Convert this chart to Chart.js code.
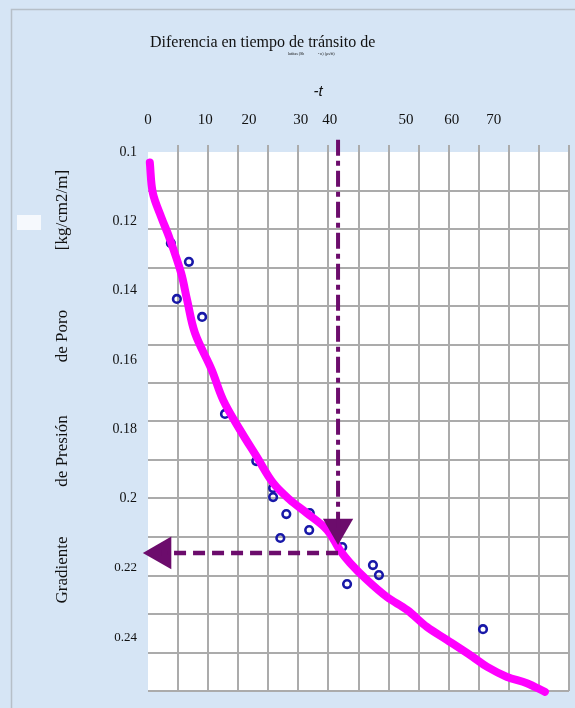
<!DOCTYPE html>
<html>
<head>
<meta charset="utf-8">
<script src="https://cdn.jsdelivr.net/npm/chart.js@4.4.1/dist/chart.umd.min.js"></script>
<style>
  html, body { margin: 0; padding: 0; background: #d6e5f5; overflow: hidden; }
  #c { display: block; }
</style>
</head>
<body>
<canvas id="c" width="575" height="708"></canvas>
<script>
// Diferencia en tiempo de tránsito de lutitas vs. gradiente de presión de poro

// Axis ranges (grid: 14 columns x 14 rows)
const xRange = [0, 70];
const yRange = [0.1, 0.1 + 14 / 90];

// Tick labels of the top axis and the values where they sit
const xTickLabels = ['0', '10', '20', '30', '40', '50', '60', '70'];
const xTickAt = [0, 9.5, 16.8, 25.4, 30.2, 42.9, 50.5, 57.5];

// Tick labels of the left axis
const yTickLabels = ['0.1', '0.12', '0.14', '0.16', '0.18', '0.2', '0.22', '0.24'];

// Trend curve
const trendX = [0.3, 0.8, 2.2, 3.5, 5.5, 6.5, 7.8, 10.6, 12.5, 15.3, 18.1, 20.8, 23.6, 26.4, 29.8, 31.9, 33.6, 36.4, 39.7, 43.1, 46.4, 49.7, 54.0, 56.4, 59.7, 63.0, 66.0];
const trendY = [0.1030, 0.1118, 0.1188, 0.1245, 0.1349, 0.1427, 0.1522, 0.1629, 0.1716, 0.1802, 0.1880, 0.1955, 0.2004, 0.2042, 0.2091, 0.2149, 0.2186, 0.2235, 0.2284, 0.2322, 0.2371, 0.2408, 0.2457, 0.2486, 0.2515, 0.2533, 0.2558];

// Measured wells
const obsX = [3.8, 6.8, 4.8, 9.0, 12.8, 18.0, 20.8, 20.8, 23.0, 22.0, 26.9, 26.8, 32.3, 37.4, 38.4, 33.1, 55.7];
const obsY = [0.1263, 0.1317, 0.1424, 0.1476, 0.1756, 0.1892, 0.1970, 0.1996, 0.2045, 0.2114, 0.2042, 0.2091, 0.2140, 0.2192, 0.2221, 0.2247, 0.2377];

// Reading guide: from the transit-time value down to the curve, then across to the gradient axis
const readX = 31.6;
const readY = 0.2157;
const guideTopY = 0.0965;
const downHeadY = 0.2084;
const leftHeadX = 2.3;

const pts = (xs, ys) => xs.map((x, i) => ({ x, y: ys[i] }));

const GRID = '#ababab';
const PURPLE = '#6c0c6c';
const SERIF = '"Liberation Serif", "Times New Roman", serif';
const CLEAR = 'rgba(0,0,0,0)';

// label axes reserve a fixed box and no extra side padding
const fixBox = (w, h) => s => {
  if (w !== null) s.width = w;
  if (h !== null) s.height = h;
  s.paddingLeft = 0; s.paddingRight = 0; s.paddingTop = 0; s.paddingBottom = 0;
};

const paper = {
  id: 'paper',
  beforeDraw(chart) {
    const { ctx, chartArea: a, width, height } = chart;
    ctx.save();
    ctx.fillStyle = '#d6e5f5';
    ctx.fillRect(0, 0, width, height);
    ctx.strokeStyle = '#b6bfc8';
    ctx.lineWidth = 1.5;
    ctx.beginPath();
    ctx.moveTo(11.5, height);
    ctx.lineTo(11.5, 9.5);
    ctx.lineTo(width, 9.5);
    ctx.stroke();
    ctx.fillStyle = '#ffffff';
    ctx.fillRect(a.left, a.top, a.right - a.left, a.bottom - a.top);
    ctx.fillStyle = '#f6f9fd';
    ctx.fillRect(17, 215, 24, 15);
    ctx.restore();
  },
  afterDraw(chart) {
    const { ctx } = chart;
    ctx.save();
    ctx.fillStyle = '#111111';
    ctx.textBaseline = 'alphabetic';
    ctx.textAlign = 'left';
    ctx.font = '16px ' + SERIF;
    ctx.fillText('Diferencia en tiempo de tránsito de', 150, 47);
    ctx.font = '4px ' + SERIF;
    ctx.fillText('lutitas (Sh', 288, 55);
    ctx.fillText('- n) (μs/ft)', 318, 55);
    ctx.font = 'italic 15px "Liberation Sans", Arial, sans-serif';
    ctx.textAlign = 'center';
    ctx.fillText('-t', 318, 96);

    // vertical axis title
    ctx.font = '17px ' + SERIF;
    ctx.textBaseline = 'middle';
    const words = [['[kg/cm2/m]', 210], ['de Poro', 336], ['de Presión', 451], ['Gradiente', 570]];
    words.forEach(([w, cy]) => {
      ctx.save();
      ctx.translate(63, cy);
      ctx.rotate(-Math.PI / 2);
      ctx.fillText(w, 0, 0);
      ctx.restore();
    });
    ctx.restore();
  }
};

new Chart(document.getElementById('c'), {
  type: 'line',
  data: {
    datasets: [
      {
        label: 'guía vertical',
        data: [{ x: readX, y: guideTopY }, { x: readX, y: downHeadY }],
        borderColor: PURPLE, borderWidth: 4, borderDash: [16, 5, 5, 5],
        pointRadius: 0, clip: false, order: 0,
        xAxisID: 'x', yAxisID: 'y'
      },
      {
        label: 'flecha abajo',
        data: [{ x: readX, y: downHeadY }],
        showLine: false, pointStyle: 'triangle', rotation: 180, pointRadius: 17.5,
        pointBackgroundColor: PURPLE, pointBorderWidth: 0, clip: false, order: 0,
        xAxisID: 'x', yAxisID: 'y'
      },
      {
        label: 'guía horizontal',
        data: [{ x: readX, y: readY }, { x: leftHeadX, y: readY }],
        borderColor: PURPLE, borderWidth: 4.5, borderDash: [12, 7],
        pointRadius: 0, clip: false, order: 0,
        xAxisID: 'x', yAxisID: 'y'
      },
      {
        label: 'flecha izquierda',
        data: [{ x: leftHeadX, y: readY }],
        showLine: false, pointStyle: 'triangle', rotation: 270, pointRadius: 19,
        pointBackgroundColor: PURPLE, pointBorderWidth: 0, clip: false, order: 0,
        xAxisID: 'x', yAxisID: 'y'
      },
      {
        label: 'tendencia',
        data: pts(trendX, trendY),
        borderColor: '#ff00ff', borderWidth: 8, tension: 0.35,
        borderCapStyle: 'round', borderJoinStyle: 'round',
        pointRadius: 0, clip: false, order: 1,
        xAxisID: 'x', yAxisID: 'y'
      },
      {
        label: 'pozos',
        data: pts(obsX, obsY),
        showLine: false, pointStyle: 'circle', pointRadius: 3.8, pointBorderWidth: 2.6,
        pointBorderColor: '#1818a8', pointBackgroundColor: CLEAR, order: 2,
        xAxisID: 'x', yAxisID: 'y'
      }
    ]
  },
  options: {
    responsive: false,
    animation: false,
    events: [],
    layout: { autoPadding: false, padding: { top: 111, left: 0, right: 6, bottom: 17 } },
    plugins: { legend: { display: false }, tooltip: { enabled: false }, title: { display: false } },
    scales: {
      x: {
        type: 'linear', position: 'top', min: xRange[0], max: xRange[1],
        ticks: { display: false, stepSize: 5 },
        grid: {
          color: c => (c.index === 0 ? CLEAR : GRID),
          lineWidth: 2, drawTicks: true, tickLength: 7
        },
        border: { display: false },
        afterFit: fixBox(null, 7)
      },
      xl: {
        type: 'linear', position: 'top', min: xRange[0], max: xRange[1],
        grid: { display: false, drawTicks: false }, border: { display: false },
        afterBuildTicks: s => { s.ticks = xTickAt.map(v => ({ value: v })); },
        ticks: {
          autoSkip: false, maxRotation: 0, minRotation: 0, padding: 16, color: '#111111',
          font: { family: SERIF, size: 15 },
          callback: (v, i) => xTickLabels[i]
        },
        afterFit: fixBox(null, 34)
      },
      yl: {
        type: 'linear', position: 'left', reverse: true, min: yRange[0], max: yRange[1],
        grid: { display: false, drawTicks: false }, border: { display: false },
        afterBuildTicks: s => { s.ticks = yTickLabels.map(t => ({ value: parseFloat(t) })); },
        ticks: {
          autoSkip: false, padding: 11, color: '#111111',
          font: c => ({ family: SERIF, size: (c.tick && c.tick.value > 0.21) ? 13 : 14 }),
          callback: (v, i) => yTickLabels[i]
        },
        afterFit: fixBox(148, null)
      },
      y: {
        type: 'linear', position: 'right', reverse: true, min: yRange[0], max: yRange[1],
        ticks: { display: false },
        afterBuildTicks: s => {
          s.ticks = Array.from({ length: 15 }, (_, i) => ({ value: yRange[0] + i * (yRange[1] - yRange[0]) / 14 }));
        },
        grid: {
          color: c => (c.index === 0 ? CLEAR : GRID),
          lineWidth: 2, drawTicks: false
        },
        border: { display: false },
        afterFit: fixBox(0, null)
      }
    }
  },
  plugins: [paper]
});
</script>
</body>
</html>
